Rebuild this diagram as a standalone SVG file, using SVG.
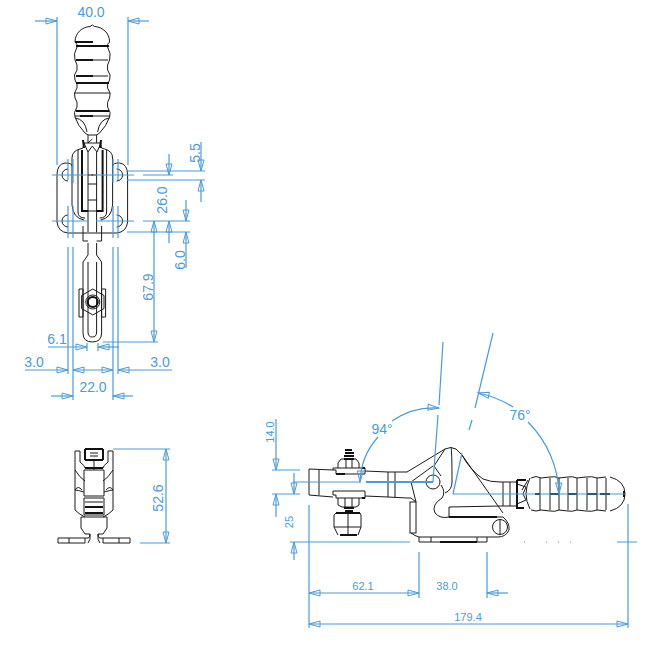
<svg xmlns="http://www.w3.org/2000/svg" xmlns:xlink="http://www.w3.org/1999/xlink" width="655" height="647" viewBox="0 0 655 647">
<style>
.k{fill:none;stroke:#1a1a1a;stroke-width:1}
.t{fill:none;stroke:#111;stroke-width:2}
.b{fill:none;stroke:#4a9bdc;stroke-width:1.2}
.a{marker-end:url(#tip)}
.s{marker-start:url(#tipS)}
text{font-family:"Liberation Sans",Arial,sans-serif;fill:#4a9bdc}
.l{font-size:14px;text-anchor:middle}
.m{font-size:11px;text-anchor:middle}
</style>
<defs>
<marker id="tip" markerUnits="userSpaceOnUse" markerWidth="14" markerHeight="8" refX="12" refY="4" orient="auto" overflow="visible"><path d="M1,1 L12,4 L1,7 Z" fill="none" stroke="#4a9bdc" stroke-width="1"/></marker>
<marker id="tipS" markerUnits="userSpaceOnUse" markerWidth="14" markerHeight="8" refX="0" refY="4" orient="auto" overflow="visible"><path d="M11,1 L0,4 L11,7 Z" fill="none" stroke="#4a9bdc" stroke-width="1"/></marker>
<g id="halfFront">
<path class="k" d="M92.3,25 L90,26.500 C82,27 75,33 75,42 Q78,44 77,47 Q73,54 75,60 Q78,65 77,70 Q73,75 75,80 Q78,84 77,88 Q73,93 75,98 Q78,102 77,107 Q73,113 75,117 Q78,126 85,133 L88,135 L88,143"/>
<path class="k" d="M75,118 Q85,119 87,132"/>
<path class="k" d="M72,158 Q72,151 80,149 L83,148 L84,143 L92.3,143"/>
<path class="k" d="M72,158 L72,205"/>
<path class="k" d="M57,175 Q57,164 65,163 Q72,163 72,166 M57,175 L57,222 Q58,232 68,233 L88,233"/>
<path class="k" d="M68,169 A6,6 0 0 0 68,181 M68,215 A6,6 0 0 0 68,227"/>
<path class="k" d="M72,205 Q73,218 84,220"/>
<path class="k" d="M78,150 L78,212 Q78,218 85,218"/>
<path class="t" d="M82,150 L82,211 L88,211"/>
<path class="k" d="M88,152 L88,232 M93,175 L88,175"/>
<path class="k" d="M83,226 L83,241 L88,241 M88,243 L88,255 L83,262 L83,333 Q83,342 92.3,342"/>
<path class="k" d="M88,262 L88,332 Q88,337 92.3,337"/>
<path class="k" d="M79,289 L83,289 L83,317 L79,317 Z"/>
</g>
<g id="halfBottom">
<path class="t" d="M85,449 L94,449 M85,449 L85,460"/>
<path class="k" d="M75,451 L80,451 L80,462 Q85,466 85,468 M75,451 L75,470 Q80,478 85,481"/>
<path class="k" d="M75,470 L75,510 Q80,515 85,517 M75,490 Q77,490 84,492 M75,490 Q78,485 82,490"/>
<path class="k" d="M84,470 L94,470 M84,470 L84,496 L94,496 M84,498 L94,498 M84,498 L84,515 L94,515"/>
<path class="t" d="M85,460 L94,460 M85,468 L94,468 M85,513 L94,513 M85,507 L94,507"/>
<path class="k" d="M85,502 L94,502 M81,517 L94,517 M81,517 L81,528 L85,534 L90,534"/>
<path class="k" d="M58,538 L88,538 Q90,538 90,534 M58,538 L58,543 L85,543 M69,538 L69,543 M85,538 L85,543 M90,534 Q91,540 88,543"/>
</g>
<g id="rib">
<path class="k" d="M0,-16 L0,16"/>
</g>
</defs>

<g id="front-view">
<use xlink:href="#halfFront" href="#halfFront"/>
<use xlink:href="#halfFront" href="#halfFront" transform="matrix(-1 0 0 1 184.6 0)"/>
<path class="k" d="M88,143 L92.3,139 M88,135 L97,135"/>
<path class="k" d="M84,143 L88,152 L92.3,146 L97,152 L101,143"/>
<path class="t" d="M75,42 L93,42 M76,46 L109,46 M76,60 L93,60 M76,76 L93,76 M76,83 L109,83 M76,111 L109,111 M83,140 L84,148 M101,140 L100,148 M93,116 L80,116"/>
<path class="k" d="M76,60 L108,60 M76,76 L108,76 M75,93 L110,93 M75,116 L110,116"/>
<path class="k" d="M88,184 L97,184 M88,200 L97,200 M88,233 L97,233 M88,211 L97,211"/>
<circle class="k" cx="92.8" cy="302" r="7"/>
<circle class="t" cx="92.8" cy="302" r="5"/>
<path class="k" d="M92.8,289 L104,295.5 L104,308.5 L92.8,315 L81.6,308.5 L81.6,295.5 Z"/>
</g>

<g id="bottom-view">
<use xlink:href="#halfBottom" href="#halfBottom"/>
<use xlink:href="#halfBottom" href="#halfBottom" transform="matrix(-1 0 0 1 188 0)"/>
<path class="k" d="M90,453 L98,453 M90,456 L98,456 M94,470 L94,460"/>
</g>

<g id="side-view">
<path class="k" d="M309,469 L333,470 M365,471 L388,472 L407,472 L445,449 Q451,446 456,449 L462,455 Q470,470 483,479 Q490,482 500,482"/>
<path class="k" d="M309,469 L309,495 L333,497 M365,496 L388,497 L407,498 L411,498 L416,502 L411,482 L433,466"/>
<path class="k" d="M319,470 L319,495 M388,472 L388,497 M395,472 L395,497"/>
<path class="k" d="M333,468 L365,468 L365,474 L336,474 L336,470 L333,470 Z M333,491 L365,491 L365,498 L336,498 L336,495 L333,495 Z"/>
<path class="k" d="M341,459 L356,459 L359,463 L359,468 M341,459 L338,463 L338,468 M346,459 L346,468 M352,459 L352,468"/>
<path class="t" d="M345,450 L352,450 M345,453 L354,453 M344,456 L354,456 M344,459 L354,459"/>
<path class="t" d="M362,468 L365,468 M362,498 L365,498 M336,474 L345,474"/>
<path class="k" d="M338,498 L338,505 L342,507 L356,507 L359,505 L359,498 M345,498 L345,507 M352,498 L352,507"/>
<path class="t" d="M344,508 L354,508 M345,511 L353,511 M336,513 L360,513 M340,535 L357,535"/>
<path class="k" d="M336,513 L334,515 L334,527 L338,535 M360,513 L361,515 L361,527 L358,535 M334,527 L361,527 M348,513 L348,535"/>
<circle class="k" cx="433" cy="482" r="7"/>
<path class="k" d="M445,449 L434,466 L441,476 M441,485 Q446,492 442,498 Q431,505 435,513 Q440,519 449,517"/>
<path class="k" d="M451,447 Q452,450 452,482 Q452,490 445,493 M462,455 L503,513"/>
<path class="k" d="M449,507 L500,506 M449,507 L449,517"/>
<path class="t" d="M449,517 L497,517"/>
<path class="k" d="M497,517 L503,517 Q510,523 509,530 Q506,537 498,537 L419,537"/>
<circle class="k" cx="500" cy="527" r="7.500"/>
<path class="k" d="M500,519.500 L500,534.500"/>
<rect class="k" x="410" y="502" width="6" height="31"/>
<path class="k" d="M411,533 Q415,536 419,537 L419,542 L487,542 L487,537 M431,537 L431,542 M477,537 L477,542"/>
<path class="t" d="M440,542 L477,542"/>
<path class="k" d="M503,482 L503,506 M510,482 L510,506 M500,482 L517,482 M500,506 L517,506"/>
<path class="t" d="M517,480 L517,508 L524,508 M517,480 L526,480"/>
<path class="k" d="M517,484 L526,487 L523,494 L526,500 L517,504 M530,478 Q522,494 530,509 M528,480 L522,490"/>
<path class="k" d="M531,478 Q536,475 541,478 L550,477 Q555,476 559,478 L568,477 Q572,476 577,478 L586,477 Q592,476 597,478 L606,477 M531,510 Q536,512 541,510 L550,511 Q555,512 559,510 L568,511 Q572,512 577,510 L586,511 Q592,512 597,510 L606,511"/>
<use xlink:href="#rib" href="#rib" x="540" y="494"/>
<use xlink:href="#rib" href="#rib" x="550" y="494"/>
<use xlink:href="#rib" href="#rib" x="559" y="494"/>
<use xlink:href="#rib" href="#rib" x="568" y="494"/>
<use xlink:href="#rib" href="#rib" x="577" y="494"/>
<use xlink:href="#rib" href="#rib" x="587" y="494"/>
<use xlink:href="#rib" href="#rib" x="597" y="494"/>
<use xlink:href="#rib" href="#rib" x="606" y="494"/>
<path class="k" d="M610,477 Q625,481 625,494 Q625,507 610,511"/>
<path class="t" d="M535,494 L540,494 M550,494 L559,494 M568,494 L577,494 M587,494 L597,494 M600,494 L610,494 M624,491 L624,497"/>
</g>

<g id="connectors">
<path class="b a" d="M35,21 L57,21"/>
<path class="b a" d="M149,21 L128,21"/>
<path class="b" d="M57,17 L57,165 M128,17 L128,165"/>
<path class="b" d="M68,159 L68,180 M73,159 L73,183 M113,159 L113,183 M118,159 L118,180 M68,206 L68,238 M73,206 L73,238 M113,206 L113,238 M118,206 L118,238 M68,247 L68,374 M73,247 L73,400 M113,247 L113,400 M118,247 L118,374"/>
<path class="b" d="M52,175 L88,175 M96,175 L134,175 M143,175 L173,175 M128,171 L205,171 M127,180 L205,180 M52,221 L88,221 M96,221 L134,221 M143,221 L190,221 M127,232 L190,232"/>
<path class="b a" d="M201,142 L201,171"/>
<path class="b a" d="M201,202 L201,180"/>
<path class="b a" d="M169,154 L169,175"/>
<path class="b a" d="M169,243 L169,221"/>
<path class="b a" d="M186,200 L186,221"/>
<path class="b a" d="M186,268 L186,232"/>
<path class="b a s" d="M154,221 L154,342"/>
<path class="b" d="M103,342 L158,342"/>
<path class="b a" d="M48,347 L87,347"/>
<path class="b a" d="M119,347 L98,347"/>
<path class="b" d="M87,343 L87,351 M98,343 L98,351"/>
<path class="b a" d="M25,370 L68,370"/>
<path class="b a s" d="M73,370 L113,370"/>
<path class="b a" d="M172,370 L118,370"/>
<path class="b a" d="M51,396 L73,396"/>
<path class="b a" d="M133,396 L113,396"/>
<path class="b" d="M113,449 L170,449 M140,543 L170,543"/>
<path class="b a s" d="M166,449 L166,543"/>

<path class="b" d="M293,482 L360,482"/>
<path class="b" style="stroke-width:2" d="M366,482 L433,482"/>
<path class="b" d="M453,494 L625,494"/>
<path class="b" d="M443,342 L439,405 M438,415 L433,482 M493,333 L475,408 M472,420 L469,430 M462,453 L453,494"/>
<path class="b a" d="M378,437 A71,71 0 0 0 360,482"/>
<path class="b a" d="M392,421 A73,73 0 0 1 439,408"/>
<path class="b a" d="M513,407 A106,106 0 0 0 478,393"/>
<path class="b a" d="M528,422 A106,106 0 0 1 559,494"/>
<path class="b a" d="M276,419 L276,470"/>
<path class="b a" d="M276,517 L276,494"/>
<path class="b" d="M272,470 L300,470 M272,494 L300,494"/>
<path class="b a" d="M294,473 L294,494"/>
<path class="b a" d="M294,560 L294,542"/>
<path class="b" d="M290,542 L410,542 M617,542 L637,542"/>
<path class="b" d="M524,542 L525,542 M546,542 L547,542 M558,542 L559,542 M570,542 L571,542"/>
<path class="b" d="M309,505 L309,628 M628,504 L628,628 M419,552 L419,598 M487,552 L487,598"/>
<path class="b a s" d="M309,593 L419,593"/>
<path class="b a" d="M508,593 L487,593"/>
<path class="b a s" d="M309,624 L628,624"/>
</g>

<g id="labels">
<text class="l" x="91" y="17">40.0</text>
<text class="l" transform="translate(200,153) rotate(-90)">5.5</text>
<text class="l" transform="translate(167,200) rotate(-90)">26.0</text>
<text class="l" transform="translate(185,260) rotate(-90)">6.0</text>
<text class="l" transform="translate(153,287) rotate(-90)">67.9</text>
<text class="l" x="57" y="344">6.1</text>
<text class="l" x="34" y="367">3.0</text>
<text class="l" x="160" y="367">3.0</text>
<text class="l" x="93" y="392">22.0</text>
<text class="l" transform="translate(163,498) rotate(-90)">52.6</text>
<text class="l" x="382" y="434">94°</text>
<text class="l" x="520" y="420">76°</text>
<text class="m" transform="translate(274,432) rotate(-90)">14.0</text>
<text class="m" transform="translate(293,522) rotate(-90)">25</text>
<text class="m" x="363" y="590">62.1</text>
<text class="m" x="447" y="590">38.0</text>
<text class="m" x="468" y="621">179.4</text>
</g>
</svg>
